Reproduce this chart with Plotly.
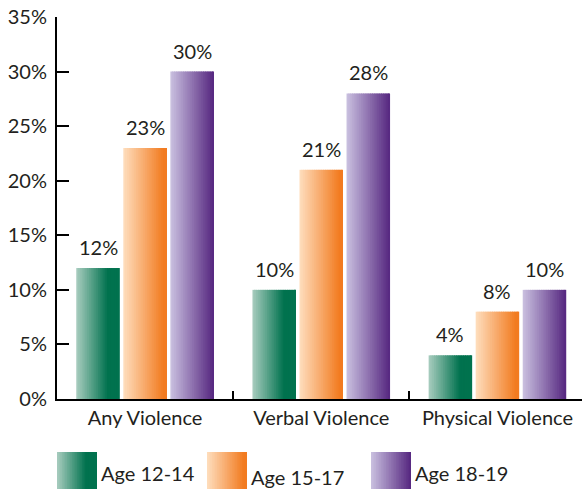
import plotly.graph_objects as go

categories = ["Any Violence", "Verbal Violence", "Physical Violence"]
series_names = ["Age 12-14", "Age 15-17", "Age 18-19"]
age_12_14 = [12, 10, 4]
age_15_17 = [23, 21, 8]
age_18_19 = [30, 28, 10]
series_values = [age_12_14, age_15_17, age_18_19]
y_ticks = [0, 5, 10, 15, 20, 25, 30, 35]
y_tick_labels = [f"{v}%" for v in y_ticks]

# styles: (light colour, dark colour, fraction of width over which gradient runs)
grads = [((169, 205, 191), (0, 114, 78), 0.72),
         ((254, 222, 190), (242, 123, 32), 0.92),
         ((202, 193, 224), (88, 42, 130), 0.97)]

FONT = "Lato"
TXT = "#231f20"
FS = 20
W, H = 582, 489
PITCH, BW, NS = 0.267, 0.247, 24

def col(light, dark, stop, t):
    f = min(t / stop, 1.0)
    c = [round(l + (d - l) * f) for l, d in zip(light, dark)]
    return f"rgb({c[0]},{c[1]},{c[2]})"

fig = go.Figure()

# main bars: gradient simulated with narrow overlaid slices
for s, vals in enumerate(series_values):
    light, dark, stop = grads[s]
    left = (s - 1) * PITCH - BW / 2
    step = BW / NS
    for k in range(NS):
        off = left + k * step
        wid = min(step * 1.6, left + BW - off)
        fig.add_trace(go.Bar(
            x=categories, y=vals, offset=off, width=wid,
            marker=dict(color=col(light, dark, stop, (k + 0.5) / NS), line=dict(width=0)),
            showlegend=False, hoverinfo="skip"))
    for i, v in enumerate(vals):
        fig.add_annotation(x=i + (s - 1) * PITCH, y=v, xref="x", yref="y",
                           text=f"{v}%", showarrow=False, yanchor="bottom", yshift=7,
                           font=dict(family=FONT, size=FS, color=TXT))

# legend swatches on an auxiliary axis (layout positions in pixels)
leg_left = [57, 207, 371]
leg_w = 40
leg_text_shift = [0, -4, 0]
for s, name in enumerate(series_names):
    light, dark, stop = grads[s]
    step = leg_w / NS
    for k in range(NS):
        off = leg_left[s] + k * step
        wid = min(step * 1.6, leg_left[s] + leg_w - off)
        fig.add_trace(go.Bar(
            x=[off], y=[1], width=[wid], offset=0, xaxis="x2", yaxis="y2",
            marker=dict(color=col(light, dark, stop, (k + 0.5) / NS), line=dict(width=0)),
            showlegend=False, hoverinfo="skip"))
    fig.add_annotation(x=leg_left[s] + leg_w + 2, y=0.43, xref="x2", yref="y2",
                       text=name, showarrow=False, xanchor="left", yanchor="middle",
                       yshift=leg_text_shift[s],
                       font=dict(family=FONT, size=FS, color=TXT))

plot_h = H - 17
fig.update_layout(
    width=W, height=H, barmode="overlay",
    margin=dict(l=0, r=0, t=17, b=0, autoexpand=False),
    paper_bgcolor="white", plot_bgcolor="white",
    font=dict(family=FONT, size=FS, color=TXT),
    showlegend=False,
    xaxis=dict(domain=[57 / W, 1], range=[-0.5, 2.48], type="category",
               showline=True, linecolor="black", linewidth=2,
               ticks="inside", tickson="boundaries", ticklen=8, tickwidth=1.5,
               tickcolor="black", showgrid=False, zeroline=False, automargin=False,
               tickfont=dict(family=FONT, size=FS, color=TXT), anchor="y"),
    yaxis=dict(domain=[90 / plot_h, 1], range=[0, 35],
               tickvals=y_ticks, ticktext=y_tick_labels,
               showline=True, linecolor="black", linewidth=2,
               ticks="inside", ticklen=12, tickwidth=2, tickcolor="black",
               showgrid=False, zeroline=False, ticklabelstandoff=4, automargin=False,
               tickfont=dict(family=FONT, size=FS, color=TXT), anchor="x"),
    xaxis2=dict(domain=[0, 1], range=[0, W], visible=False, anchor="y2", automargin=False),
    yaxis2=dict(domain=[0, 37 / plot_h], range=[0, 1], visible=False, anchor="x2", automargin=False),
)

fig.write_html("out.html", config={"displayModeBar": False},
               post_script="document.body.style.margin='0';")
